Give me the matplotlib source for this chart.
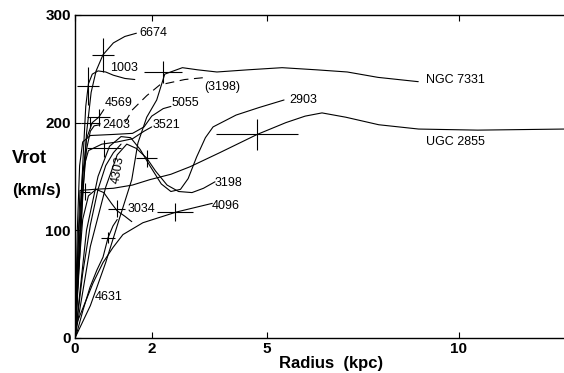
import matplotlib
matplotlib.use("Agg")
import matplotlib.pyplot as plt

plt.rcParams['font.family'] = ['Liberation Sans', 'DejaVu Sans']

# ---- data (radius kpc, rotation velocity km/s) ----
r_6674 = [0, 0.1, 0.2, 0.3, 0.42, 0.55, 0.73, 1.0, 1.3, 1.6]
v_6674 = [0, 60, 130, 190, 228, 248, 263, 274, 280, 283]

r_1003 = [0, 0.1, 0.2, 0.28, 0.35, 0.45, 0.6, 0.8, 1.0, 1.3, 1.56]
v_1003 = [0, 70, 160, 215, 236, 245, 248, 247, 244, 241, 240]

r_7331 = [0, 0.4, 0.8, 1.15, 1.48, 1.64, 1.87, 2.13, 2.34, 2.8, 3.2, 3.7, 4.5, 5.4, 6.3, 7.1, 7.9, 8.95]
v_7331 = [0, 30, 70, 110, 147, 181, 205, 221, 245, 251, 249, 247, 249, 251, 249, 247, 242, 238]

r_3198d = [1.3, 1.5, 1.87, 2.21, 2.86, 3.43]
v_3198d = [200, 212, 225, 235, 240, 242]

r_4569 = [0, 0.1, 0.2, 0.3, 0.45, 0.62, 0.75]
v_4569 = [0, 80, 150, 185, 200, 205, 212]

r_2403 = [0, 0.1, 0.2, 0.3, 0.4, 0.5, 0.65]
v_2403 = [0, 70, 135, 175, 192, 197, 198]

r_5055 = [0, 0.06, 0.12, 0.2, 0.4, 1.0, 1.5, 1.8, 2.0, 2.3, 2.5]
v_5055 = [0, 100, 160, 182, 188, 189, 190, 196, 206, 213, 215]

r_3521 = [0, 0.1, 0.2, 0.35, 0.7, 1.1, 1.5, 1.8, 2.0]
v_3521 = [0, 100, 155, 174, 180, 182, 185, 192, 196]

r_2903 = [0, 0.3, 0.6, 0.9, 1.2, 1.45, 1.7, 1.95, 2.25, 2.5, 2.75, 2.95, 3.17, 3.4, 3.6, 4.2, 4.8, 5.45]
v_2903 = [0, 100, 150, 178, 187, 186, 175, 160, 143, 136, 138, 148, 168, 186, 196, 207, 214, 221]

r_3198 = [0, 0.4, 0.8, 1.1, 1.35, 1.6, 1.87, 2.1, 2.4, 2.7, 3.05, 3.35, 3.65]
v_3198 = [0, 85, 140, 170, 180, 176, 167, 155, 142, 136, 135, 139, 145]

r_u2855 = [0, 0.08, 0.13, 0.5, 1.0, 1.5, 1.95, 2.5, 3.0, 3.77, 4.75, 5.5, 6.0, 6.44, 7.06, 7.92, 8.96, 10.5, 12.75]
v_u2855 = [0, 90, 137, 138, 139, 142, 147, 152, 159, 172, 189, 200, 206, 209, 205, 198, 194, 193, 194]

r_4303 = [0, 0.2, 0.4, 0.6, 0.8, 1.0, 1.2]
v_4303 = [0, 60, 105, 138, 160, 172, 180]

r_3034 = [0, 0.1, 0.2, 0.35, 0.55, 0.75, 0.95, 1.1, 1.3, 1.48]
v_3034 = [0, 65, 110, 132, 138, 135, 125, 118, 113, 108]

r_4096 = [0, 0.05, 0.47, 0.73, 0.99, 1.25, 1.77, 2.65, 3.58]
v_4096 = [0, 14, 51, 70, 84, 96, 107, 117, 125]

r_4631 = [0, 0.05, 0.21, 0.39, 0.57, 0.73, 0.86, 0.99, 1.1]
v_4631 = [0, 5, 26, 47, 63, 75, 93, 104, 110]

# error crosses: radius, velocity, radius error, velocity error
cross_r = [0.73, 0.34, 2.29, 0.62, 0.75, 1.87, 4.75, 1.09, 2.6, 0.86, 0.26, 0.4]
cross_v = [263, 234, 247, 205, 176, 167, 189, 120, 117, 93, 136, 200]
cross_re = [0.29, 0.29, 0.5, 0.3, 0.45, 0.27, 1.07, 0.22, 0.47, 0.17, 0.13, 0.25]
cross_ve = [16, 18, 10, 8, 8, 8, 14, 8, 8, 5, 8, 5]

# labels: text, radius, velocity, rotation
label_text = ["6674", "1003", "NGC 7331", "(3198)", "4569", "5055", "2403", "3521",
              "2903", "UGC 2855", "4303", "3198", "3034", "4096", "4631"]
label_r = [1.69, 0.91, 9.14, 3.38, 0.78, 2.52, 0.7, 2.03, 5.58, 9.14, 1.12, 3.64, 1.38, 3.56, 0.52]
label_v = [283, 251, 240, 233, 218, 218, 198, 198, 221, 182, 156, 144, 120, 123, 38]
label_rot = [0, 0, 0, 0, 0, 0, 0, 0, 0, 0, 80, 0, 0, 0, 0]

x_ticks = [0, 2, 5, 10]
y_ticks = [0, 100, 200, 300]

fig = plt.figure(figsize=(5.64, 3.73), dpi=100)
ax = fig.add_axes([0.133, 0.094, 0.867, 0.866])

lw = 0.8
solid = [(r_6674, v_6674), (r_1003, v_1003), (r_7331, v_7331), (r_4569, v_4569),
         (r_2403, v_2403), (r_5055, v_5055), (r_3521, v_3521), (r_2903, v_2903),
         (r_3198, v_3198), (r_u2855, v_u2855), (r_4303, v_4303), (r_3034, v_3034),
         (r_4096, v_4096), (r_4631, v_4631)]
for r, v in solid:
    ax.plot(r, v, color='black', lw=lw, solid_capstyle='round')
ax.plot(r_3198d, v_3198d, color='black', lw=lw, ls=(0, (8, 5)))

ax.errorbar(cross_r, cross_v, xerr=cross_re, yerr=cross_ve, fmt='none',
            ecolor='black', elinewidth=0.8, capsize=0)

for t, r, v, rot in zip(label_text, label_r, label_v, label_rot):
    if rot:
        ax.text(r, v, t, rotation=rot, ha='center', va='center', fontsize=9)
    else:
        ax.text(r, v, t, ha='left', va='center', fontsize=9)

ax.set_xlim(0, 12.75)
ax.set_ylim(0, 300)
ax.set_xticks(x_ticks)
ax.set_yticks(y_ticks)
ax.tick_params(direction='in', length=4, width=0.8, top=True,
               labelsize=11, pad=3)
for lab in ax.get_xticklabels() + ax.get_yticklabels():
    lab.set_fontweight('bold')
ax.spines['right'].set_visible(False)
for s in ['left', 'bottom', 'top']:
    ax.spines[s].set_linewidth(1.0)

ax.set_xlabel('Radius  (kpc)', fontsize=12, fontweight='bold', labelpad=0)
ax.xaxis.set_label_coords(0.523, -0.055)
fig.text(0.021, 0.576, 'Vrot', fontsize=13, fontweight='bold', ha='left', va='center')
fig.text(0.021, 0.49, '(km/s)', fontsize=12, fontweight='bold', ha='left', va='center')

fig.savefig('out.png', dpi=100)
